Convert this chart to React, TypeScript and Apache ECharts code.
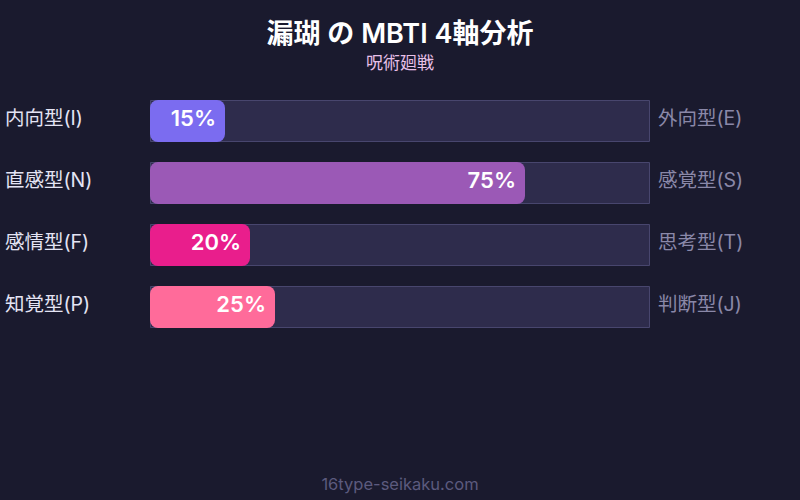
import React, { useEffect, useRef } from "react";
import * as echarts from "echarts";

const leftLabels = ["内向型(I)", "直感型(N)", "感情型(F)", "知覚型(P)"];
const rightLabels = ["外向型(E)", "感覚型(S)", "思考型(T)", "判断型(J)"];
const values = [15, 75, 20, 25];
const barColors = ["#7b6cf0", "#9b59b6", "#e91e8c", "#ff6b9a"];
const trackValues = [100, 100, 100, 100];

const FONT = "Inter, 'Noto Sans CJK JP', sans-serif";

export default function App() {
  const ref = useRef<HTMLDivElement>(null);
  useEffect(() => {
    document.body.style.margin = "0";
    const chart = echarts.init(ref.current!, null, { renderer: "svg" });
    chart.setOption({
      animation: false,
      backgroundColor: "#1a1a2e",
      textStyle: { fontFamily: FONT },
      title: {
        text: "漏瑚 の MBTI 4軸分析",
        subtext: "呪術廻戦",
        left: "center",
        top: 15,
        itemGap: 8,
        textStyle: { color: "#ffffff", fontSize: 27, fontWeight: 600, fontFamily: FONT },
        subtextStyle: { color: "#e8c0e8", fontSize: 17, fontFamily: FONT },
      },
      graphic: [
        {
          type: "text",
          left: "center",
          top: 476,
          style: { text: "16type-seikaku.com", fill: "#5c5a7e", fontSize: 16.5, fontFamily: FONT },
        },
      ],
      grid: { left: 150, right: 150, top: 90, bottom: 162 },
      xAxis: { type: "value", min: 0, max: 100, show: false },
      yAxis: [
        {
          type: "category",
          data: leftLabels,
          inverse: true,
          axisLine: { show: false },
          axisTick: { show: false },
          axisLabel: {
            align: "left",
            margin: 145,
            formatter: (v: string) => `{t|${v}}`,
            rich: {
              t: { color: "#e4e4f4", fontSize: 19.5, fontFamily: FONT, padding: [0, 0, 6, 0] },
            },
          },
        },
        {
          type: "category",
          data: rightLabels,
          inverse: true,
          position: "right",
          axisLine: { show: false },
          axisTick: { show: false },
          axisLabel: {
            margin: 8,
            formatter: (v: string) => `{t|${v}}`,
            rich: {
              t: { color: "#8a88a8", fontSize: 19.5, fontFamily: FONT, padding: [0, 0, 6, 0] },
            },
          },
        },
      ],
      series: [
        {
          type: "bar",
          data: trackValues,
          barWidth: 42,
          barGap: "-100%",
          silent: true,
          itemStyle: { color: "#2e2c4c", borderColor: "#48466e", borderWidth: 1 },
          z: 1,
        },
        {
          type: "bar",
          data: values.map((v, i) => ({ value: v, itemStyle: { color: barColors[i] } })),
          barWidth: 42,
          itemStyle: { borderRadius: 8 },
          z: 2,
          label: {
            show: true,
            position: "insideRight",
            distance: 9,
            offset: [0, -3],
            formatter: "{c}%",
            color: "#ffffff",
            fontSize: 22,
            fontWeight: 600,
            fontFamily: FONT,
          },
        },
      ],
    });
    return () => chart.dispose();
  }, []);
  return <div ref={ref} style={{ position: "fixed", left: 0, top: 0, width: 800, height: 500 }} />;
}
